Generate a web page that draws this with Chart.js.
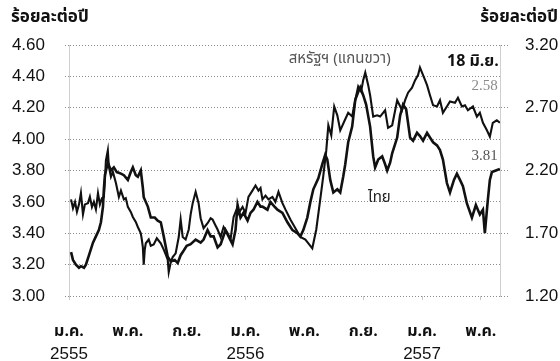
<!DOCTYPE html>
<html lang="th">
<head>
<meta charset="utf-8">
<script src="https://cdn.jsdelivr.net/npm/chart.js@4.4.1/dist/chart.umd.min.js"></script>
<style>
  html, body { margin: 0; padding: 0; background: #fff; }
  #wrap { width: 560px; height: 361px; }
</style>
</head>
<body>
<div id="wrap"><canvas id="bondYieldChart" width="560" height="361"></canvas></div>
<script>
// months counted from ม.ค. 2555 (0 = start of January 2012)
const thaiMonth = [0.14,0.27,0.47,0.68,0.81,1.02,1.15,1.36,1.63,1.83,
  2.03,2.17,2.31,2.37,2.44,2.64,2.85,3.05,3.25,3.53,
  3.73,4.00,4.20,4.34,4.54,4.68,4.88,5.02,5.08,5.36,
  5.56,5.83,6.03,6.24,6.44,6.71,6.92,7.19,7.39,7.59,
  7.80,8.00,8.27,8.61,8.95,9.15,9.42,9.63,9.83,10.10,
  10.31,10.64,10.85,11.12,11.32,11.46,11.66,11.86,12.14,12.34,
  12.54,12.81,13.02,13.15,13.49,13.69,13.97,14.17,14.51,14.85,
  15.19,15.53,15.73,15.93,16.20,16.41,16.61,16.95,17.22,17.42,
  17.56,17.76,17.97,18.24,18.44,18.64,18.78,18.98,19.25,19.46,
  19.66,19.80,20.00,20.20,20.47,20.68,20.81,21.02,21.29,21.49,
  21.63,21.83,21.97,22.31,22.51,22.71,22.92,23.19,23.39,23.66,
  23.86,24.07,24.34,24.54,24.75,25.02,25.22,25.42,25.69,25.90,
  26.17,26.37,26.58,26.78,27.05,27.39,27.66,27.93,28.14,28.27,
  28.47,28.61,28.75,29.02,29.29];
const thaiYield = [3.28,3.23,3.20,3.18,3.19,3.18,3.20,3.26,3.34,3.38,
  3.42,3.47,3.57,3.68,3.77,3.85,3.80,3.82,3.79,3.78,
  3.77,3.74,3.79,3.82,3.77,3.76,3.80,3.69,3.63,3.57,
  3.50,3.50,3.48,3.47,3.38,3.25,3.22,3.23,3.21,3.26,
  3.29,3.32,3.33,3.36,3.34,3.36,3.42,3.38,3.38,3.31,
  3.33,3.42,3.38,3.33,3.42,3.58,3.50,3.53,3.48,3.53,
  3.55,3.60,3.57,3.57,3.55,3.60,3.57,3.55,3.53,3.47,
  3.42,3.40,3.38,3.42,3.50,3.60,3.68,3.75,3.84,3.90,
  3.87,3.74,3.66,3.68,3.66,3.76,3.84,3.98,4.08,4.25,
  4.30,4.33,4.28,4.22,4.08,3.89,3.82,3.87,3.89,3.84,
  3.80,3.85,3.91,4.01,4.15,4.22,4.19,4.01,3.99,4.04,
  4.02,3.99,4.04,4.01,3.98,3.96,3.93,3.87,3.72,3.66,
  3.74,3.78,3.74,3.70,3.59,3.50,3.58,3.52,3.55,3.40,
  3.61,3.74,3.79,3.80,3.81];

const usMonth = [0.14,0.27,0.41,0.54,0.68,0.81,0.95,1.08,1.29,1.42,
  1.56,1.69,1.83,1.97,2.10,2.24,2.37,2.44,2.51,2.64,
  2.71,2.85,2.98,3.19,3.39,3.53,3.73,3.86,4.00,4.20,
  4.34,4.54,4.68,4.88,4.95,5.02,5.08,5.15,5.22,5.42,
  5.56,5.76,5.97,6.24,6.44,6.58,6.71,6.78,6.92,7.05,
  7.25,7.46,7.59,7.73,7.93,8.14,8.27,8.41,8.61,8.81,
  8.95,9.15,9.42,9.63,9.76,9.97,10.10,10.31,10.51,10.78,
  10.98,11.19,11.46,11.53,11.80,12.00,12.20,12.47,12.68,12.88,
  13.02,13.15,13.36,13.56,13.83,14.03,14.24,14.51,14.71,15.05,
  15.39,15.73,16.07,16.34,16.54,16.81,17.08,17.29,17.49,17.63,
  17.83,18.03,18.24,18.44,18.71,18.98,19.25,19.46,19.66,19.86,
  20.00,20.14,20.34,20.47,20.68,20.95,21.15,21.49,21.69,21.97,
  22.31,22.64,22.85,23.05,23.32,23.53,23.73,23.86,24.14,24.34,
  24.54,24.75,25.02,25.22,25.42,25.69,25.90,26.24,26.44,26.71,
  26.92,27.12,27.46,27.73,27.93,28.14,28.41,28.61,28.81,29.08,
  29.29];
const usYield = [1.97,1.90,1.95,1.87,1.93,2.02,1.85,1.93,1.94,1.99,
  1.91,1.95,1.89,2.02,1.93,1.98,1.99,2.12,2.28,2.36,
  2.23,2.15,2.19,2.10,1.99,2.04,1.97,1.98,1.91,1.87,
  1.83,1.79,1.75,1.70,1.65,1.59,1.45,1.57,1.62,1.65,
  1.60,1.61,1.66,1.62,1.57,1.53,1.49,1.39,1.47,1.51,
  1.54,1.67,1.81,1.67,1.65,1.73,1.85,1.94,2.03,1.94,
  1.82,1.74,1.78,1.82,1.81,1.76,1.73,1.67,1.75,1.70,
  1.65,1.83,1.91,1.86,1.91,1.86,1.99,2.04,2.08,2.04,
  2.06,1.97,2.00,1.97,1.99,1.95,2.03,1.94,1.89,1.81,
  1.74,1.67,1.65,1.61,1.58,1.73,1.97,2.16,2.36,2.56,
  2.48,2.71,2.64,2.52,2.59,2.66,2.63,2.76,2.87,2.83,
  2.92,2.98,2.88,2.80,2.63,2.64,2.63,2.68,2.54,2.56,
  2.76,2.68,2.76,2.82,2.86,2.92,2.96,3.02,2.94,2.88,
  2.80,2.72,2.71,2.76,2.66,2.71,2.75,2.74,2.78,2.71,
  2.72,2.68,2.71,2.63,2.66,2.58,2.52,2.47,2.58,2.60,
  2.58];

const monthTicks = [0, 4, 8, 12, 16, 20, 24, 28];
const monthLabels = ["ม.ค.", "พ.ค.", "ก.ย.", "ม.ค.", "พ.ค.", "ก.ย.", "ม.ค.", "พ.ค."];
const yearTicks = [0, 12, 24];
const yearLabels = ["2555", "2556", "2557"];
const leftTicks = [3.0, 3.2, 3.4, 3.6, 3.8, 4.0, 4.2, 4.4, 4.6];
const rightTicks = [1.2, 1.7, 2.2, 2.7, 3.2];

const unitLabel = "ร้อยละต่อปี";
const thaiName = "ไทย";
const usName = "สหรัฐฯ (แกนขวา)";
const lastDateLabel = "18 มิ.ย.";

const thaiFont = '"Noto Sans Thai", "Noto Sans", "DejaVu Sans", sans-serif';
const numFont = '"Liberation Sans", Arial, sans-serif';
const gridColor = "#8c8c8c";

const points = (xs, ys) => xs.map((m, i) => ({ x: m, y: ys[i] }));
const fixTicks = list => scale => { scale.ticks = list.map(v => ({ value: v })); };

// free text: units, series names and end values
const notes = {
  id: "notes",
  afterDraw(chart) {
    const { ctx } = chart;
    const x = chart.scales.x, yL = chart.scales.y, yR = chart.scales.y1;
    const lastX = x.getPixelForValue(thaiMonth[thaiMonth.length - 1]);
    const lastThai = thaiYield[thaiYield.length - 1];
    const lastUs = usYield[usYield.length - 1];

    ctx.save();
    ctx.textBaseline = "middle";
    ctx.fillStyle = "#111";
    ctx.font = `bold 17px ${thaiFont}`;
    ctx.textAlign = "left";
    ctx.fillText(unitLabel, 11, 19);
    ctx.textAlign = "right";
    ctx.fillText(unitLabel, 558, 19);

    ctx.font = `bold 16px ${thaiFont}`;
    ctx.fillText(lastDateLabel, lastX - 1, yR.getPixelForValue(lastUs) - 60);

    ctx.font = `15px "Liberation Serif", serif`;
    ctx.fillStyle = "#8a8a8a";
    ctx.fillText(lastUs.toFixed(2), lastX - 2, yR.getPixelForValue(lastUs) - 37);
    ctx.fillStyle = "#555";
    ctx.fillText(lastThai.toFixed(2), lastX - 2, yL.getPixelForValue(lastThai) - 13);

    ctx.textAlign = "center";
    ctx.font = `15px ${thaiFont}`;
    ctx.fillStyle = "#555";
    ctx.fillText(usName, x.getPixelForValue(18.4), yR.getPixelForValue(3.08));
    ctx.fillStyle = "#222";
    ctx.fillText(thaiName, x.getPixelForValue(21.1), yL.getPixelForValue(3.62));
    ctx.restore();
  }
};

new Chart(document.getElementById("bondYieldChart"), {
  type: "line",
  data: {
    datasets: [
      {
        label: thaiName,
        data: points(thaiMonth, thaiYield),
        yAxisID: "y",
        borderColor: "#111",
        borderWidth: 2.6,
        pointRadius: 0,
        tension: 0
      },
      {
        label: usName,
        data: points(usMonth, usYield),
        yAxisID: "y1",
        borderColor: "#111",
        borderWidth: 2.1,
        pointRadius: 0,
        tension: 0
      }
    ]
  },
  options: {
    responsive: false,
    animation: false,
    devicePixelRatio: 1,
    layout: { padding: { top: 45, left: 0, right: 0, bottom: 0 } },
    plugins: { legend: { display: false }, tooltip: { enabled: false } },
    scales: {
      x: {
        type: "linear",
        position: "bottom",
        min: 0,
        max: 29.3,
        afterBuildTicks: fixTicks(monthTicks),
        afterFit: s => { s.height = 40; },
        ticks: {
          callback: (v, i) => monthLabels[i],
          font: { family: thaiFont, size: 16, weight: "bold" },
          color: "#111",
          padding: 23,
          maxRotation: 0,
          autoSkip: false
        },
        grid: { drawOnChartArea: false, tickLength: 4, color: "#c8c8c8" },
        border: { display: false }
      },
      x2: {
        type: "linear",
        position: "bottom",
        min: 0,
        max: 29.3,
        afterBuildTicks: fixTicks(yearTicks),
        afterFit: s => { s.height = 25; },
        ticks: {
          callback: (v, i) => yearLabels[i],
          font: { family: numFont, size: 17 },
          color: "#111",
          padding: 0,
          maxRotation: 0,
          autoSkip: false
        },
        grid: { display: false },
        border: { display: false }
      },
      y: {
        position: "left",
        min: 3.0,
        max: 4.6,
        afterBuildTicks: fixTicks(leftTicks),
        afterFit: s => { s.width = 69; },
        ticks: {
          callback: v => v.toFixed(2),
          font: { family: numFont, size: 17 },
          color: "#111",
          padding: 20
        },
        grid: { color: gridColor, lineWidth: 1, tickLength: 4, tickBorderDash: [1, 2] },
        border: { display: true, color: "#cfcfcf", dash: [1, 2] }
      },
      y1: {
        position: "right",
        min: 1.2,
        max: 3.2,
        afterBuildTicks: fixTicks(rightTicks),
        afterFit: s => { s.width = 60; },
        ticks: {
          callback: v => v.toFixed(2),
          font: { family: numFont, size: 17 },
          color: "#111",
          padding: 17
        },
        grid: { drawOnChartArea: false, color: gridColor, tickLength: 8, tickBorderDash: [1, 2] },
        border: { display: true, color: "#cfcfcf", dash: [1, 2] }
      }
    }
  },
  plugins: [notes]
});
</script>
</body>
</html>
